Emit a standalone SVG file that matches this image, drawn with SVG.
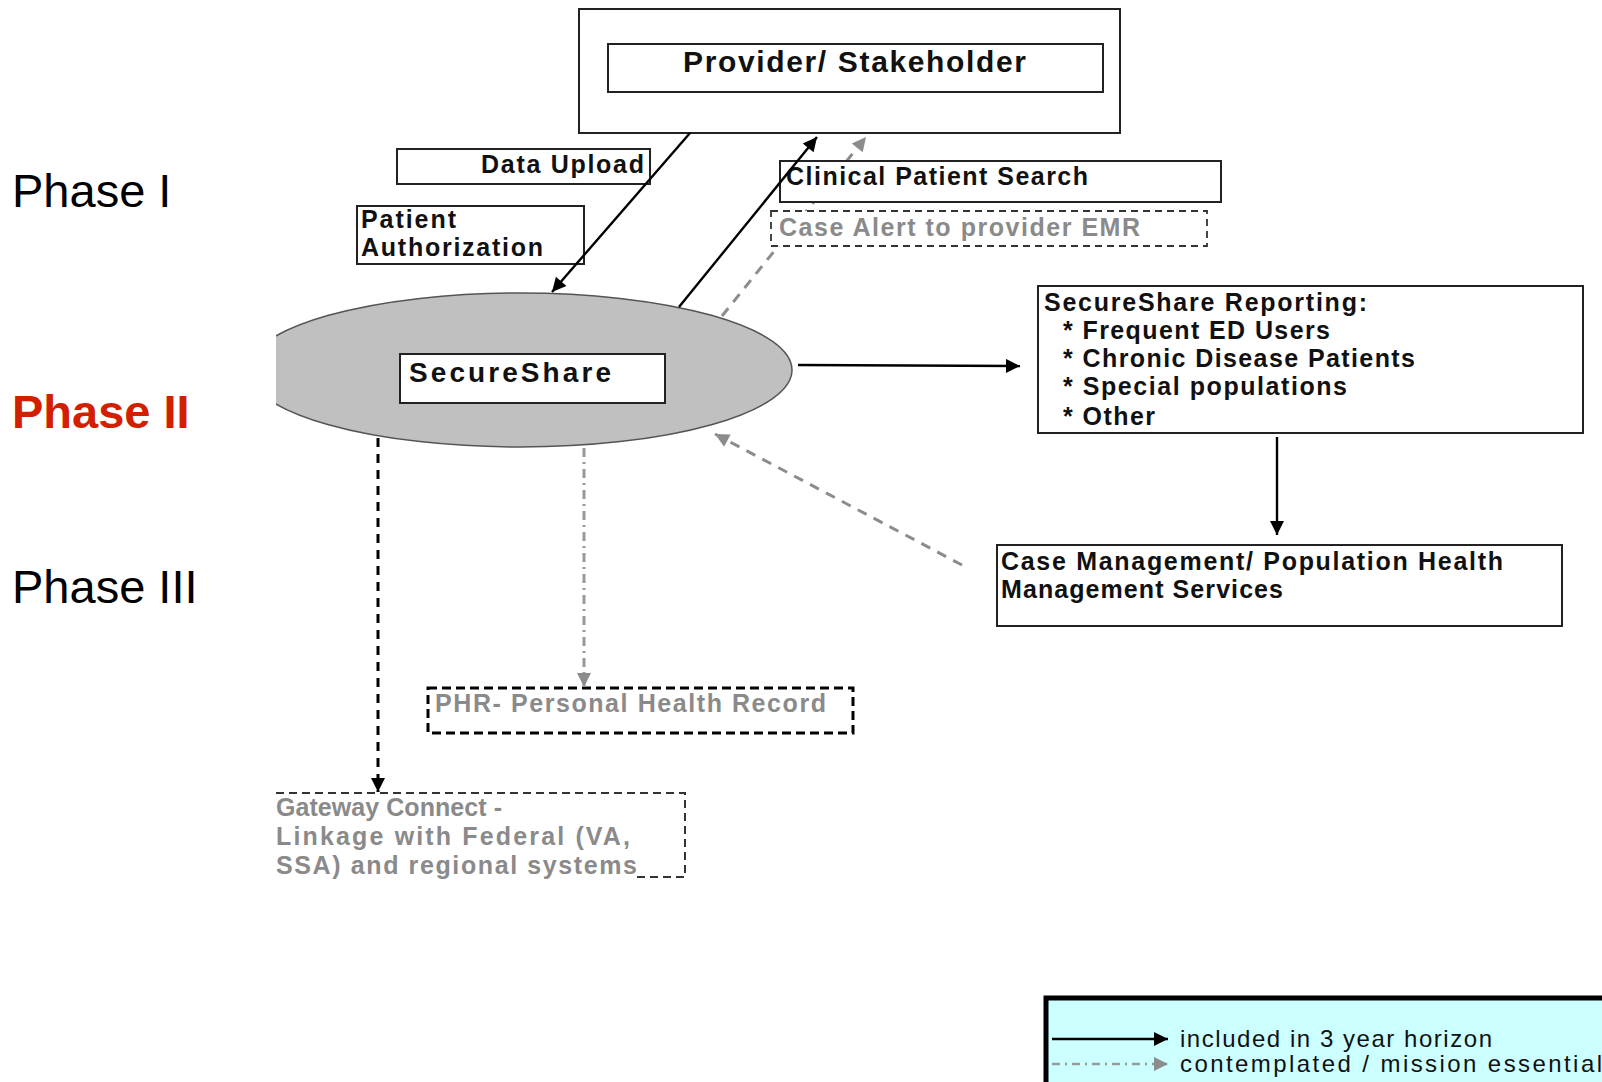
<svg xmlns="http://www.w3.org/2000/svg" width="1602" height="1082" viewBox="0 0 1602 1082">
<style>
  text { font-family: "Liberation Sans", Arial, sans-serif; }
  .lbl { font-size: 25px; font-weight: bold; fill: #111; }
  .glbl { font-size: 25px; font-weight: bold; fill: #8a8a8a; }
  .phase { font-size: 47px; fill: #000; }
  .box { fill: #fff; stroke: #222; stroke-width: 2; }
  .dbox { fill: #fff; stroke: #333; stroke-width: 1.8; stroke-dasharray: 7 5; }
  .solid { stroke: #000; stroke-width: 2.4; fill: none; }
  .gdash { stroke: #8c8c8c; stroke-width: 3; stroke-dasharray: 10 8; fill: none; }
  .kdash { stroke: #000; stroke-width: 3; stroke-dasharray: 9 7; fill: none; }
  .gdot { stroke: #999; stroke-width: 3; stroke-dasharray: 9 5 2 5; fill: none; }
  .leg { font-size: 24px; fill: #111; }
</style>
<defs>
  <marker id="ak" viewBox="0 0 10 10" refX="10" refY="5" markerWidth="18" markerHeight="14" markerUnits="userSpaceOnUse" orient="auto">
    <path d="M0,0 L10,5 L0,10 z" fill="#000"/>
  </marker>
  <marker id="ag" viewBox="0 0 10 10" refX="10" refY="5" markerWidth="18" markerHeight="14" markerUnits="userSpaceOnUse" orient="auto">
    <path d="M0,0 L10,5 L0,10 z" fill="#8c8c8c"/>
  </marker>
  <clipPath id="cutL"><rect x="276" y="0" width="1326" height="1082"/></clipPath>
</defs>
<rect width="1602" height="1082" fill="#fff"/>

<g id="phases">
  <text class="phase" x="12" y="207">Phase I</text>
  <text class="phase" x="12" y="428" font-weight="bold" style="fill:#d21f00">Phase II</text>
  <text class="phase" x="12" y="603">Phase III</text>
</g>

<g id="connectors-back">
  <line class="gdash" x1="722" y1="316" x2="866" y2="137" marker-end="url(#ag)"/>
</g>

<g id="provider">
  <rect class="box" x="579" y="9" width="541" height="124"/>
  <rect class="box" x="608" y="44" width="495" height="48"/>
  <text x="683" y="72" font-size="30" font-weight="bold" fill="#111" textLength="343">Provider/ Stakeholder</text>
</g>

<g id="data-upload">
  <rect class="box" x="397" y="149" width="253" height="35"/>
  <text class="lbl" x="481" y="173" textLength="163">Data Upload</text>
</g>

<g id="patient-auth">
  <rect class="box" x="357" y="206" width="227" height="58"/>
  <text class="lbl" x="361" y="228" textLength="95">Patient</text>
  <text class="lbl" x="361" y="256" textLength="182">Authorization</text>
</g>

<g id="clinical-search">
  <rect class="box" x="780" y="161" width="441" height="41"/>
  <text class="lbl" x="786" y="185" textLength="302">Clinical Patient Search</text>
</g>

<g id="case-alert">
  <rect class="dbox" x="771" y="211" width="436" height="35"/>
  <text class="glbl" x="779" y="236" textLength="361">Case Alert to provider EMR</text>
</g>

<g id="secureshare">
  <ellipse cx="520" cy="370" rx="272" ry="77" fill="#c0c0c0" stroke="#555" stroke-width="1.5" clip-path="url(#cutL)"/>
  <rect class="box" x="400" y="354" width="265" height="49"/>
  <text x="409" y="382" font-size="28" font-weight="bold" fill="#111" textLength="202">SecureShare</text>
</g>

<g id="reporting">
  <rect class="box" x="1038" y="286" width="545" height="147"/>
  <text class="lbl" x="1044" y="311" textLength="323">SecureShare Reporting:</text>
  <text class="lbl" x="1063" y="339" textLength="267">* Frequent ED Users</text>
  <text class="lbl" x="1063" y="367" textLength="352">* Chronic Disease Patients</text>
  <text class="lbl" x="1063" y="395" textLength="284">* Special populations</text>
  <text class="lbl" x="1063" y="425" textLength="92">* Other</text>
</g>

<g id="case-management">
  <rect class="box" x="997" y="545" width="565" height="81"/>
  <text class="lbl" x="1001" y="570" textLength="502">Case Management/ Population Health</text>
  <text class="lbl" x="1001" y="598" textLength="282">Management Services</text>
</g>

<g id="phr">
  <rect x="428" y="688" width="425" height="45" fill="#fff" stroke="#000" stroke-width="3" stroke-dasharray="9 5"/>
  <text class="glbl" x="435" y="712" textLength="391">PHR- Personal Health Record</text>
</g>

<g id="gateway">
  <path d="M276,793 H685 V877 H636" fill="none" stroke="#333" stroke-width="2" stroke-dasharray="8 5"/>
  <text class="glbl" x="276" y="816" textLength="226">Gateway Connect -</text>
  <text class="glbl" x="276" y="845" textLength="354">Linkage with Federal (VA,</text>
  <text class="glbl" x="276" y="874" textLength="361">SSA) and regional systems</text>
</g>

<g id="connectors">
  <line class="solid" x1="690" y1="133" x2="552" y2="292" marker-end="url(#ak)"/>
  <line class="solid" x1="679" y1="307" x2="817" y2="137" marker-end="url(#ak)"/>
  <line class="solid" x1="798" y1="365" x2="1020" y2="366" marker-end="url(#ak)"/>
  <line class="solid" x1="1277" y1="437" x2="1277" y2="535" marker-end="url(#ak)"/>
  <line class="gdash" x1="962" y1="565" x2="715" y2="434" marker-end="url(#ag)"/>
  <line class="kdash" x1="378" y1="438" x2="378" y2="792" marker-end="url(#ak)"/>
  <line class="gdot" x1="584" y1="448" x2="584" y2="687" marker-end="url(#ag)"/>
</g>

<g id="legend">
  <rect x="1046" y="998" width="600" height="120" fill="#ccffff" stroke="#000" stroke-width="5"/>
  <line class="solid" x1="1052" y1="1039" x2="1168" y2="1039" marker-end="url(#ak)"/>
  <text class="leg" x="1180" y="1047" textLength="312">included in 3 year horizon</text>
  <line x1="1052" y1="1064" x2="1168" y2="1064" stroke="#999" stroke-width="2.5" stroke-dasharray="8 5 2 5" marker-end="url(#ag)"/>
  <text class="leg" x="1180" y="1072" textLength="422">contemplated / mission essential</text>
</g>
</svg>
